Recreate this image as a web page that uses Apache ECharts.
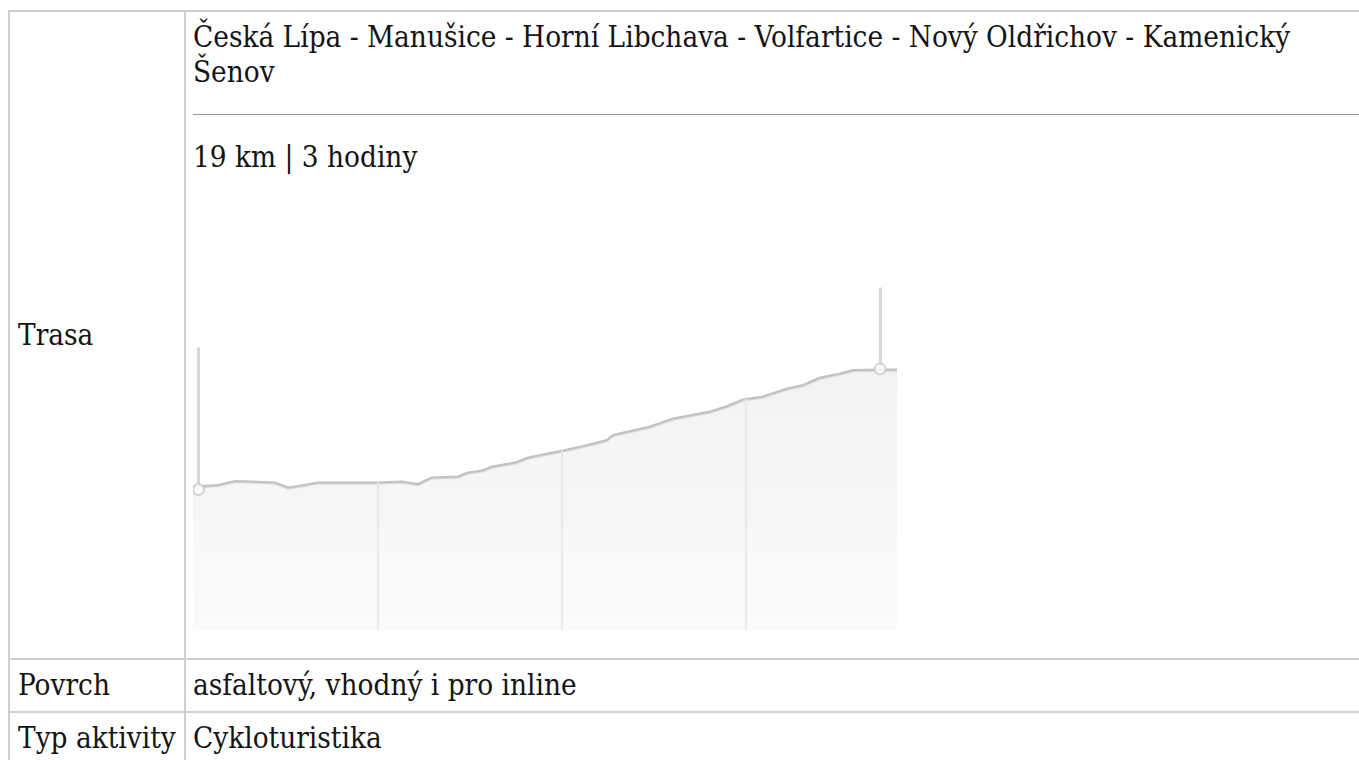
<!DOCTYPE html>
<html>
<head>
<meta charset="utf-8">
<script src="https://cdn.jsdelivr.net/npm/echarts@6/dist/echarts.min.js"></script>
<style>
html,body{margin:0;padding:0;background:#fff;width:1359px;height:760px;overflow:hidden;}
body{position:relative;font-family:"DejaVu Serif Condensed","DejaVu Serif",serif;font-stretch:condensed;color:#141414;font-size:29.4px;}
.b{position:absolute;background:#d0d0d0;}
.t{position:absolute;white-space:nowrap;line-height:35px;}
#hr{position:absolute;left:193px;top:114px;width:1166px;height:1px;background:#9a9a9a;}
#chart{position:absolute;left:193px;top:260px;width:704px;height:380px;}
</style>
</head>
<body>
<div class="b" style="left:8px;top:10px;width:1351px;height:2px"></div>
<div class="b" style="left:8px;top:10px;width:2px;height:750px"></div>
<div class="b" style="left:184px;top:10px;width:2px;height:750px"></div>
<div class="b" style="left:8px;top:658px;width:1351px;height:2px"></div>
<div class="b" style="left:8px;top:711px;width:1351px;height:2px"></div>

<div class="t" style="left:193px;top:20px">Česká Lípa - Manušice - Horní Libchava - Volfartice - Nový Oldřichov - Kamenický<br>Šenov</div>
<div id="hr"></div>
<div class="t" style="left:193px;top:140px">19 km | 3 hodiny</div>
<div class="t" style="left:18px;top:318px">Trasa</div>
<div class="t" style="left:18px;top:668px">Povrch</div>
<div class="t" style="left:18px;top:721px">Typ aktivity</div>
<div class="t" style="left:193px;top:668px">asfaltový, vhodný i pro inline</div>
<div class="t" style="left:193px;top:721px">Cykloturistika</div>

<div id="chart"></div>
<script>
// distance along route (km)
const distanceKm = [0, 0.68, 1.14, 1.60, 2.22, 2.58, 2.85, 3.39, 4.99, 5.67, 6.10, 6.48, 7.19, 7.46, 7.84, 8.11, 8.74, 9.09, 9.55, 10.04, 10.58, 11.23, 11.39, 12.40, 13.02, 14.03, 14.49, 14.92, 15.46, 16.12, 16.55, 17.01, 17.55, 17.91, 18.64, 19.10];
// elevation (m)
const elevationM = [287, 290, 298, 297, 295, 285, 288, 295, 295, 297, 292, 305, 307, 315, 319, 327, 335, 345, 352, 359, 368, 380, 390, 407, 423, 437, 448, 461, 467, 483, 490, 505, 513, 520, 521, 521];
// start / end pins
const pinKm = [0.15, 18.64];
const pinElev = [281, 522];
const pinTop = [565, 685];
// vertical guide marks at each 5 km (down from profile)
const guideKm = [5, 10, 15];
const guideElev = [295, 359, 462];

const chart = echarts.init(document.getElementById('chart'));
const guideLines = guideKm.map((k, i) => [{coord: [k, 0]}, {coord: [k, guideElev[i]]}]);
const pinLines = pinKm.map((k, i) => [{coord: [k, pinElev[i]]}, {coord: [k, pinTop[i]]}]);
chart.setOption({
  animation: false,
  grid: {left: 0, right: 0, top: 20, bottom: 10},
  xAxis: {type: 'value', min: 0, max: 19.1, show: false},
  yAxis: {type: 'value', min: 0, max: 700, show: false},
  series: [
    {
      type: 'line',
      data: distanceKm.map((d, i) => [d, elevationM[i]]),
      showSymbol: false,
      z: 2,
      lineStyle: {color: '#c2c2c2', width: 2, shadowColor: 'rgba(0,0,0,0.15)', shadowBlur: 1, shadowOffsetY: 1},
      areaStyle: {
        color: new echarts.graphic.LinearGradient(0, 0, 0, 1, [
          {offset: 0, color: '#ececec'},
          {offset: 1, color: '#f8f8f8'}
        ])
      },
      markLine: {
        silent: true,
        symbol: 'none',
        label: {show: false},
        data: guideLines,
        lineStyle: {color: '#e9e9e9', width: 2, type: 'solid'}
      }
    },
    {
      type: 'line',
      data: [],
      z: 3,
      markLine: {
        silent: true,
        symbol: 'none',
        label: {show: false},
        data: pinLines,
        lineStyle: {color: '#d8d8d8', width: 3, type: 'solid'}
      }
    },
    {
      type: 'scatter',
      z: 5,
      data: pinKm.map((k, i) => [k, pinElev[i]]),
      symbol: 'circle',
      symbolSize: 11,
      itemStyle: {color: '#ffffff', borderColor: '#c8c8c8', borderWidth: 2}
    }
  ]
});
</script>
</body>
</html>
